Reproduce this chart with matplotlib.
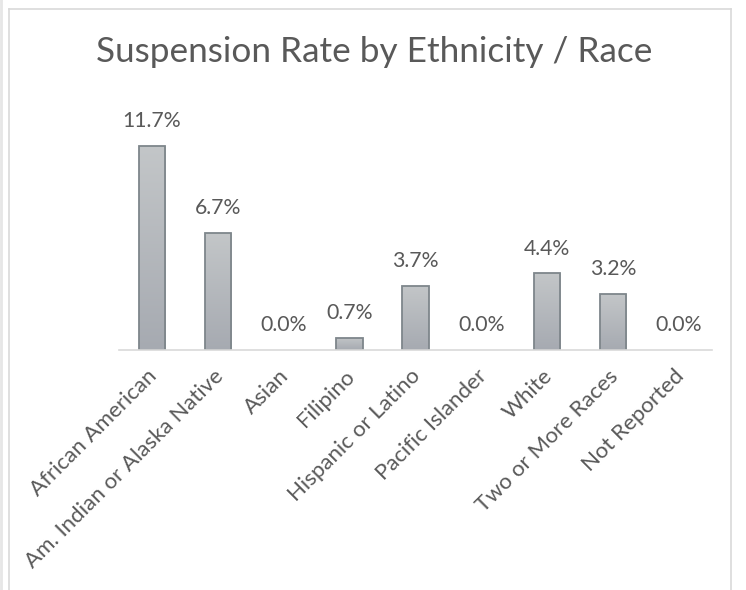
import matplotlib
matplotlib.use("Agg")
import matplotlib.pyplot as plt
import matplotlib.transforms as mtransforms
import numpy as np
from matplotlib.lines import Line2D
from matplotlib.colors import LinearSegmentedColormap

categories = ["African American", "Am. Indian or Alaska Native", "Asian", "Filipino",
              "Hispanic or Latino", "Pacific Islander", "White", "Two or More Races",
              "Not Reported"]
rates = [11.7, 6.7, 0.0, 0.7, 3.7, 0.0, 4.4, 3.2, 0.0]
title = "Suspension Rate by Ethnicity / Race"

plt.rcParams['font.family'] = ['Lato', 'DejaVu Sans']
txt = '#595959'

fig = plt.figure(figsize=(7.46, 5.9), dpi=100)
W, H = 746, 590
ax = fig.add_axes([119 / W, 1 - 350 / H, (712 - 119) / W, (350 - 106) / H])

x = np.arange(len(categories))
bars = ax.bar(x, rates, width=0.4, color='#b4b8bc', edgecolor='#7e868b', linewidth=1.3, zorder=2)
grad = np.linspace(0, 1, 256).reshape(-1, 1)
cmap = LinearSegmentedColormap.from_list('g', ['#a6aab1', '#c3c6c8'])
for b, v in zip(bars, rates):
    if v <= 0:
        b.set_linewidth(0)
        continue
    bx, by = b.get_x(), b.get_y()
    im = ax.imshow(grad, extent=[bx, bx + b.get_width(), by, by + b.get_height()],
                   origin='lower', cmap=cmap, aspect='auto', zorder=1.5)
    im.set_clip_path(b)
    b.set_facecolor('none')

for xi, v in zip(x, rates):
    ax.annotate(f"{v:.1f}%", (xi, v), xytext=(0, 13.5), textcoords='offset points',
                ha='center', va='baseline', fontsize=15.3, color=txt)

ax.set_xlim(-0.5, len(categories) - 0.5)
ax.set_ylim(0, 14)
ax.set_yticks([])
for s in ['top', 'right', 'left']:
    ax.spines[s].set_visible(False)
ax.spines['bottom'].set_color('#d9d9d9')
ax.spines['bottom'].set_linewidth(1.2)
ax.set_xticks(x)
ax.set_xticklabels(categories, rotation=45, ha='right', va='top',
                   rotation_mode='anchor', fontsize=16, color=txt)
ax.tick_params(axis='x', length=0, pad=11.5)
shift = mtransforms.ScaledTranslation(-5 / 100, 0, fig.dpi_scale_trans)
for lab in ax.get_xticklabels():
    lab.set_transform(lab.get_transform() + shift)

fig.text(374 / W, 1 - 52 / H, title, ha='center', va='center', fontsize=25.3, color=txt)

bc = '#d9d9d9'
fig.add_artist(Line2D([8.5 / W, 8.5 / W], [0, 1 - 9 / H], transform=fig.transFigure, color=bc, lw=1.2))
fig.add_artist(Line2D([8.5 / W, 731 / W], [1 - 9 / H, 1 - 9 / H], transform=fig.transFigure, color=bc, lw=1.2))
fig.add_artist(Line2D([731 / W, 731 / W], [0, 1 - 9 / H], transform=fig.transFigure, color=bc, lw=1.2))
fig.add_artist(Line2D([1 / W, 1 / W], [0, 1], transform=fig.transFigure, color='#e6e6e6', lw=2))

fig.savefig("out.png", dpi=100)
